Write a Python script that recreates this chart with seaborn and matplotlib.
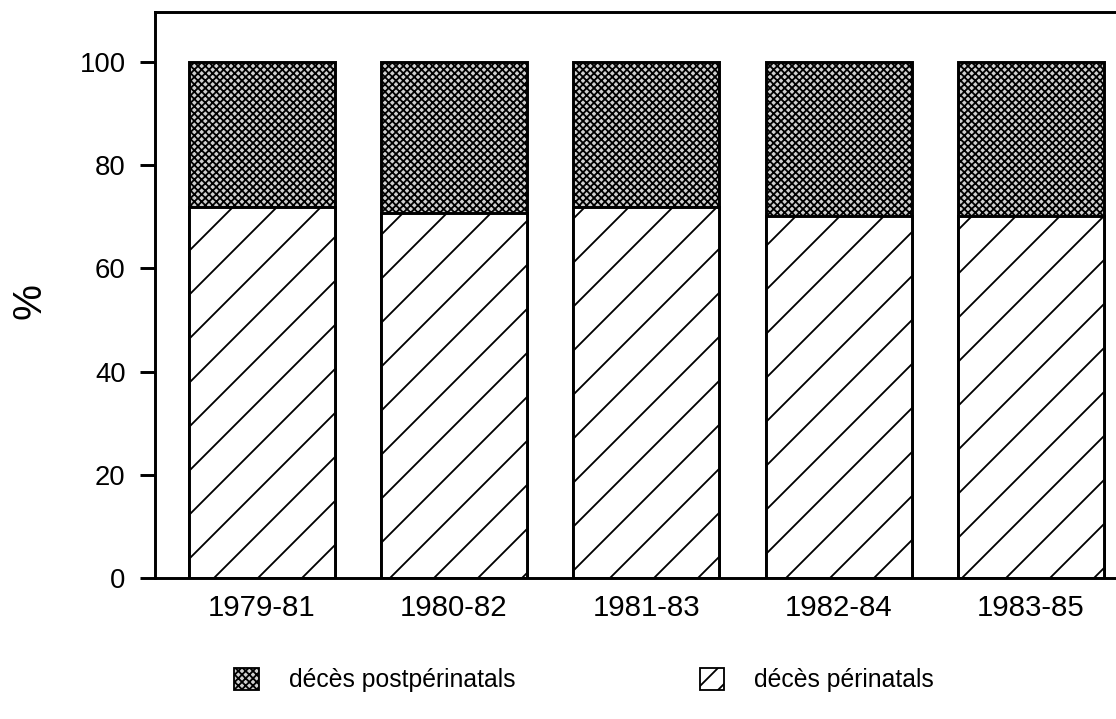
import pandas as pd
import matplotlib.pyplot as plt
import seaborn as sns
from matplotlib.patches import Patch

# données
periodes = ["1979-81", "1980-82", "1981-83", "1982-84", "1983-85"]
perinatals = [71.9, 70.8, 71.9, 70.2, 70.2]
total = [100, 100, 100, 100, 100]

df = pd.DataFrame({"periode": periodes, "perinatals": perinatals, "total": total})

sns.set_style("white", {"text.color": "black", "xtick.color": "black", "ytick.color": "black",
                        "axes.labelcolor": "black"})
plt.rcParams['font.family'] = ['Liberation Sans', 'DejaVu Sans']
plt.rcParams['hatch.linewidth'] = 1.0

DPI = 132
fig = plt.figure(figsize=(1116 / DPI, 719 / DPI), dpi=DPI)
ax = fig.add_axes([155 / 1116, 141 / 719, 1 - 155 / 1116 + 0.01, 566 / 719])

stipple = dict(facecolor="#d0d0d0", edgecolor="black", hatch="xxxxxx", linewidth=1.6)
stripes = dict(facecolor="white", edgecolor="black", hatch="/", linewidth=1.6)

sns.barplot(data=df, x="periode", y="total", ax=ax, width=0.76, color="#d0d0d0", saturation=1)
for p in ax.patches:
    p.set(**stipple)
n = len(ax.patches)
sns.barplot(data=df, x="periode", y="perinatals", ax=ax, width=0.76, color="white", saturation=1)
for p in ax.patches[n:]:
    p.set(**stripes)

ax.set_ylim(0, 109.7)
ax.set_xlim(-0.555, 4.5)
ax.set_yticks([0, 20, 40, 60, 80, 100])
ax.tick_params(axis="y", left=True, length=8, width=1.6, direction="out", labelsize=15, pad=8,
               colors="black")
ax.tick_params(axis="x", bottom=False, labelsize=16, pad=5, colors="black")
ax.set_xticks(range(len(periodes)))
ax.set_xticklabels(periodes)
ax.set_xlabel("")
ax.set_ylabel("%", fontsize=22, color="black")
ax.yaxis.set_label_coords(-0.11, 0.49)
for s in ax.spines.values():
    s.set_linewidth(1.6)
    s.set_color("black")
ax.spines["right"].set_visible(False)

h1 = Patch(**{**stipple, "linewidth": 1.0})
h2 = Patch(**{**stripes, "linewidth": 1.0, "hatch": "//"})
fig.legend([h1], ["décès postpérinatals"], loc="center left", bbox_to_anchor=(0.19, 0.054),
           frameon=False, fontsize=13.5, handlelength=1.0, handleheight=1.0, handletextpad=1.2,
           labelcolor="black")
fig.legend([h2], ["décès périnatals"], loc="center left", bbox_to_anchor=(0.607, 0.054),
           frameon=False, fontsize=13.5, handlelength=1.0, handleheight=1.0, handletextpad=1.2,
           labelcolor="black")

fig.savefig("out.png", dpi=DPI)
